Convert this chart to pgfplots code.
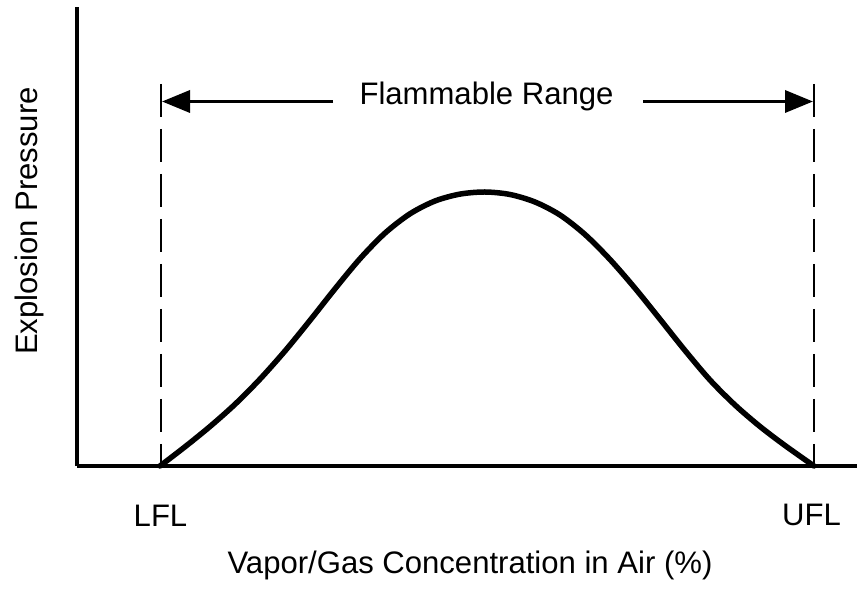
\documentclass[border=0pt]{standalone}
\usepackage{fontspec}
\setmainfont{Liberation Sans}
\usepackage{pgfplots}
\pgfplotsset{compat=1.18}
\usetikzlibrary{arrows.meta}
\begin{document}
\fontsize{31}{36}\selectfont
\begin{tikzpicture}
\useasboundingbox (0,0) rectangle (857bp,589bp);
\begin{axis}[
  at={(77bp,123bp)}, anchor=south west,
  scale only axis, width=780bp, height=459bp,
  xmin=77, xmax=857, ymin=0, ymax=459,
  axis x line=bottom, axis y line=left,
  axis line style={-, line width=4bp, black},
  xtick=\empty, ytick=\empty,
  clip=false,
  font=\fontsize{31.2}{36}\selectfont,
]
% dashed limit lines
\addplot[black, line width=2.5bp, dash pattern=on 33bp off 12bp] coordinates {(161,382) (161,0)};
\addplot[black, line width=2.5bp, dash pattern=on 33bp off 12bp] coordinates {(814,382) (814,0)};
% flammable range arrows
\addplot[black, line width=3.5bp, -{Triangle[length=28bp,width=22bp]}] coordinates {(333,364.5) (162,364.5)};
\addplot[black, line width=3.5bp, -{Triangle[length=28bp,width=22bp]}] coordinates {(643,364.5) (813,364.5)};
% explosion pressure curve
\addplot[black, line width=5.5bp, smooth, line cap=round] coordinates {
 (160,0) (185,19.2) (210,39.5) (235,61.7) (260,86.9) (285,115) (310,145.6) (335,177.2)
 (360,207.3) (385,232.9) (410,252.2) (435,265) (460,271.9) (485,274)
 (510,271.5) (535,264) (560,251) (585,231.5) (610,206.5) (635,177.8) (660,146.8)
 (685,115.5) (710,86) (735,61) (760,39.5) (785,20.5) (814,0)};
\node[anchor=base] at (axis cs:486.5,361) {Flammable Range};
\node[anchor=base] at (axis cs:160.5,-60) {LFL};
\node[anchor=base] at (axis cs:811.5,-59) {UFL};
\node[anchor=base] at (axis cs:470,-107) {Vapor/Gas Concentration in Air (\%)};
\node[anchor=base, rotate=90] at (axis cs:37,245) {Explosion Pressure};
\end{axis}
\end{tikzpicture}
\end{document}
